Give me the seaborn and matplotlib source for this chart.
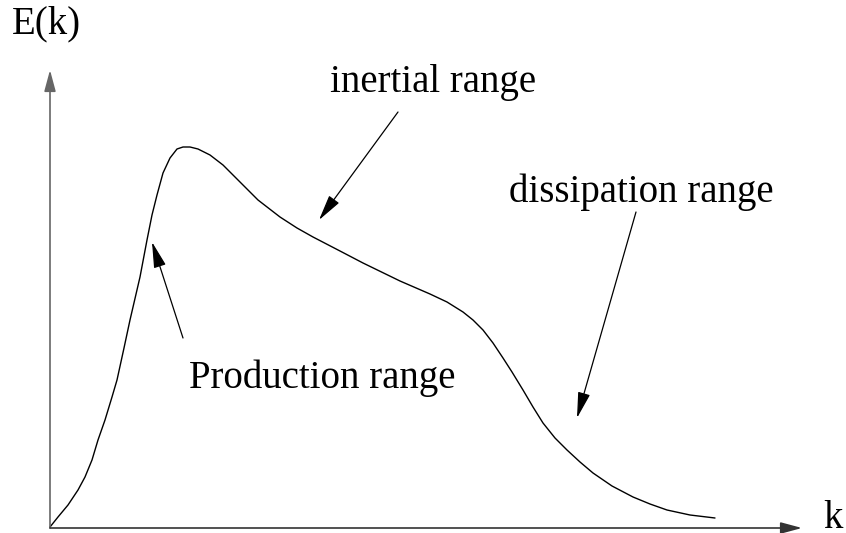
import matplotlib
matplotlib.use("Agg")
import matplotlib.pyplot as plt
import seaborn as sns
import pandas as pd

# energy spectrum sketch (k from the origin, E up from the k axis)
k_vals = [0, 8, 18, 28, 35, 42, 48, 55, 62, 67, 74, 80, 90, 97, 102, 107, 113, 120,
          127, 133, 140, 148, 160, 173, 190, 208, 230, 247, 263, 290, 313, 350, 380,
          397, 413, 423, 433, 443, 453, 462, 473, 483, 493, 505, 517, 530, 543, 562,
          583, 600, 617, 640, 665]
E_vals = [1, 11, 23, 38, 51, 68, 88, 108, 131, 148, 180, 208, 251, 288, 313, 333, 355,
          370, 379, 381, 381, 379, 373, 363, 346, 328, 311, 300, 291, 277, 265, 247,
          234, 226, 216, 208, 198, 185, 170, 156, 138, 121, 105, 90, 78, 66, 55, 42,
          31, 24, 18, 13, 10]

labels = ["inertial range", "dissipation range", "Production range"]
label_pos = [(383, 436), (591, 326), (272, 140)]
arrow_tail = [(348, 416), (586, 316), (133, 190)]
arrow_tip = [(269, 308), (527, 110), (102, 286)]

df = pd.DataFrame({"k": k_vals, "E": E_vals})

sns.set_style("white")
plt.rcParams["font.family"] = ["Liberation Serif", "DejaVu Serif"]
plt.rcParams["text.color"] = "black"

fig = plt.figure(figsize=(8.46, 5.33), dpi=100)
ax = fig.add_axes([0, 0, 1, 1])

sns.lineplot(data=df, x="k", y="E", color="black", linewidth=1.0,
             estimator=None, sort=False, ax=ax,
             solid_joinstyle="round", solid_capstyle="round")

# axes drawn as arrows
ax.annotate("", xy=(0, 458), xytext=(0, 0),
            arrowprops=dict(arrowstyle="-|>,head_length=1.3,head_width=0.35",
                            mutation_scale=10, color="#666666", lw=1.2,
                            shrinkA=0, shrinkB=0))
ax.annotate("", xy=(752, 0), xytext=(0, 0),
            arrowprops=dict(arrowstyle="-|>,head_length=1.3,head_width=0.35",
                            mutation_scale=10, color="#333333", lw=1.2,
                            shrinkA=0, shrinkB=0))

for tail, tip in zip(arrow_tail, arrow_tip):
    ax.annotate("", xy=tip, xytext=tail,
                arrowprops=dict(arrowstyle="-|>,head_length=1.6,head_width=0.38",
                                mutation_scale=10, color="black", lw=0.9,
                                shrinkA=0, shrinkB=0))

for txt, pos in zip(labels, label_pos):
    ax.text(pos[0], pos[1], txt, fontsize=28, ha="center", va="baseline",
            color="black")

ax.text(-38, 495, "E(k)", fontsize=28, ha="left", va="baseline", color="black")
ax.text(773, 0, "k", fontsize=28, ha="left", va="baseline", color="black")

ax.set_xlim(-50, 796)
ax.set_ylim(-5, 528)
ax.axis("off")

fig.savefig("out.png", dpi=100)
